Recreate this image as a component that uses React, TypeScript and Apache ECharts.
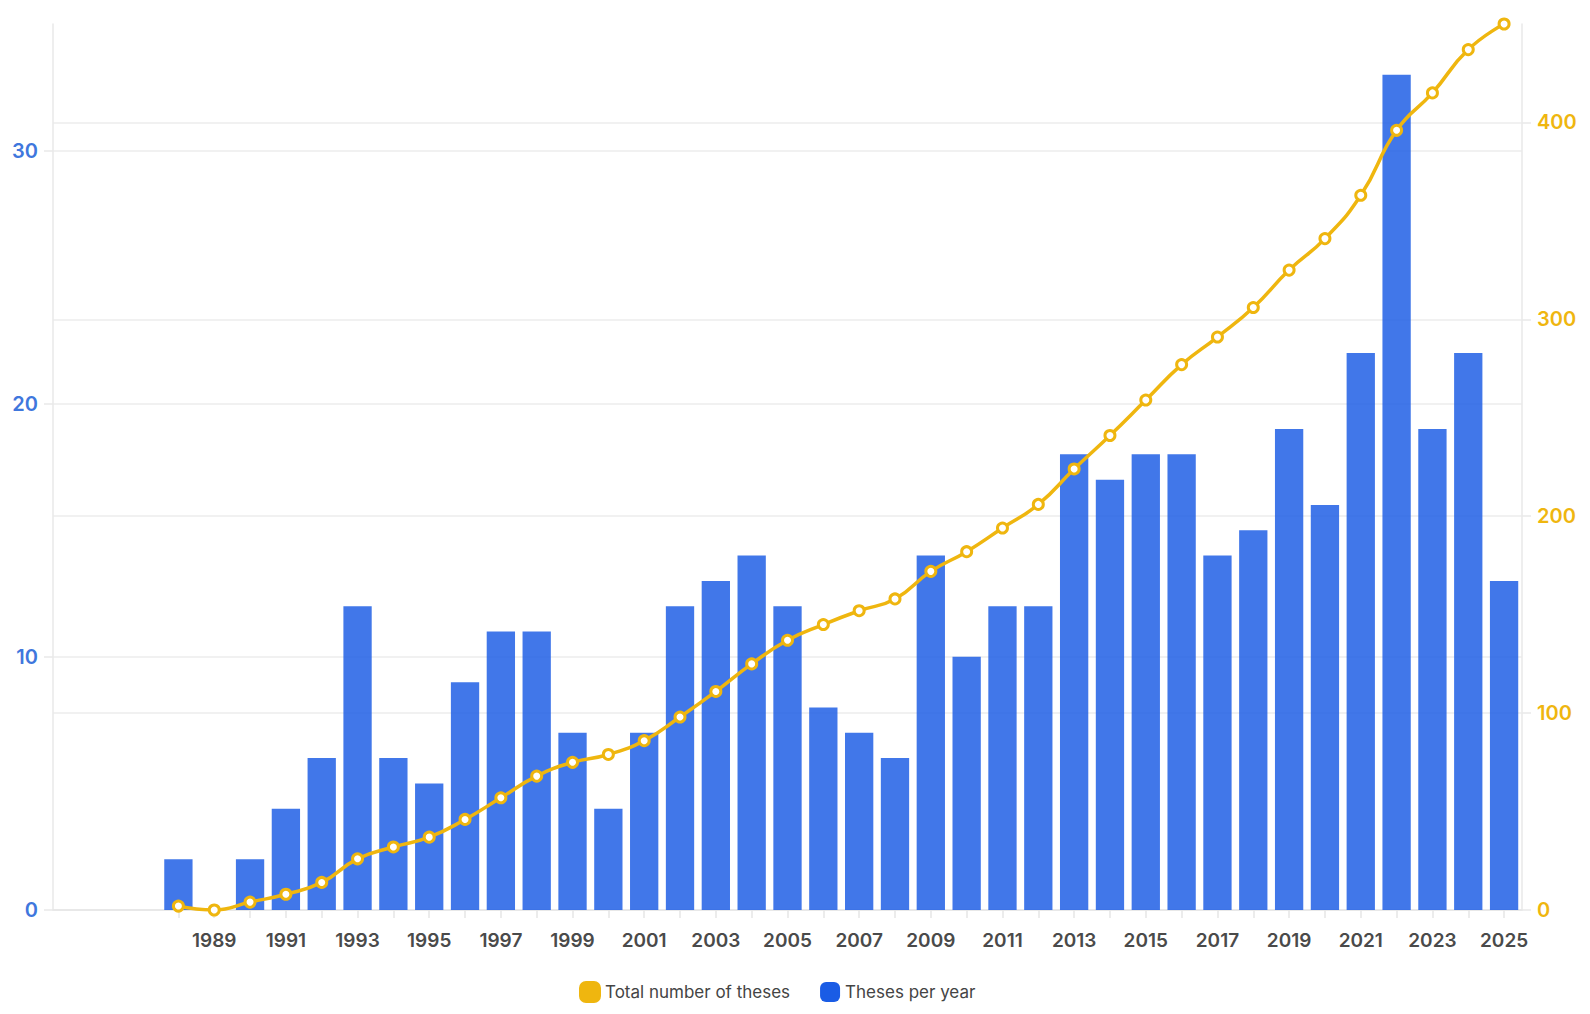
import React, { useEffect, useRef } from "react";
import * as echarts from "echarts";

const years: string[] = [
  "1985", "1986", "1987", "1988", "1989", "1990", "1991", "1992", "1993", "1994",
  "1995", "1996", "1997", "1998", "1999", "2000", "2001", "2002", "2003", "2004",
  "2005", "2006", "2007", "2008", "2009", "2010", "2011", "2012", "2013", "2014",
  "2015", "2016", "2017", "2018", "2019", "2020", "2021", "2022", "2023", "2024", "2025",
];

const thesesPerYear: (number | null)[] = [
  null, null, null, 2, 0, 2, 4, 6, 12, 6,
  5, 9, 11, 11, 7, 4, 7, 12, 13, 14,
  12, 8, 7, 6, 14, 10, 12, 12, 18, 17,
  18, 18, 14, 15, 19, 16, 22, 33, 19, 22, 13,
];

const totalTheses: (number | null)[] = [
  null, null, null, 2, 0, 4, 8, 14, 26, 32,
  37, 46, 57, 68, 75, 79, 86, 98, 111, 125,
  137, 145, 152, 158, 172, 182, 194, 206, 224, 241,
  259, 277, 291, 306, 325, 341, 363, 396, 415, 437, 450,
];

const leftTicks = { min: 0, max: 35, interval: 10 };
const rightTicks = { min: 0, max: 450, interval: 100 };

const BLUE = "#1a5ce5";
const GOLD = "#efb60f";
const FONT = "Inter, 'Open Sans', sans-serif";
const ICON = "path://M6,0 H14 A6,6 0 0 1 20,6 V14 A6,6 0 0 1 14,20 H6 A6,6 0 0 1 0,14 V6 A6,6 0 0 1 6,0 Z";

export default function App() {
  const ref = useRef<HTMLDivElement>(null);
  useEffect(() => {
    if (!ref.current) return;
    const chart = echarts.init(ref.current, null, { renderer: "svg" });
    chart.setOption({
      animation: false,
      textStyle: { fontFamily: FONT },
      grid: { left: 53, right: 68, top: 24, bottom: 104, containLabel: false },
      legend: {
        left: 574,
        top: 976,
        itemWidth: 20,
        itemHeight: 20,
        itemGap: 30,
        textStyle: { fontSize: 17, color: "#444", fontFamily: FONT },
        data: [
          { name: "Total number of theses", icon: ICON, itemStyle: { color: GOLD } },
          { name: "Theses per year", icon: ICON, itemStyle: { color: BLUE, opacity: 1 } },
        ],
      },
      xAxis: {
        type: "category",
        data: years,
        boundaryGap: true,
        axisLine: { show: true, lineStyle: { color: "#e6e6e6", width: 1.5 } },
        axisTick: {
          show: true,
          alignWithLabel: true,
          length: 8,
          lineStyle: { color: "#e6e6e6", width: 1.5 },
          interval: (i: number, v: string) => +v >= 1988,
        },
        axisLabel: {
          interval: (i: number, v: string) => +v >= 1989 && +v % 2 === 1,
          color: "#4a4a4a",
          fontSize: 19,
          fontWeight: 600,
          margin: 21,
          fontFamily: FONT,
        },
        splitLine: { show: false },
      },
      yAxis: [
        {
          type: "value",
          position: "left",
          min: leftTicks.min,
          max: leftTicks.max,
          interval: leftTicks.interval,
          axisLine: { show: true, lineStyle: { color: "#e8e8e8", width: 1.5 } },
          axisTick: { show: true, length: 9, lineStyle: { color: "#e8e8e8", width: 1.5 } },
          axisLabel: {
            color: "#3f77dd",
            fontSize: 20,
            fontWeight: 600,
            margin: 15,
            showMaxLabel: false,
            fontFamily: FONT,
          },
          splitLine: { show: true, showMaxLine: false, lineStyle: { color: "#ececec", width: 1.5 } },
        },
        {
          type: "value",
          position: "right",
          min: rightTicks.min,
          max: rightTicks.max,
          interval: rightTicks.interval,
          axisLine: { show: true, lineStyle: { color: "#e8e8e8", width: 1.5 } },
          axisTick: { show: true, length: 9, lineStyle: { color: "#e8e8e8", width: 1.5 } },
          axisLabel: {
            color: GOLD,
            fontSize: 20,
            fontWeight: 600,
            margin: 15,
            showMaxLabel: false,
            fontFamily: FONT,
          },
          splitLine: { show: true, showMaxLine: false, lineStyle: { color: "#ececec", width: 1.5 } },
        },
      ],
      series: [
        {
          name: "Total number of theses",
          type: "line",
          yAxisIndex: 1,
          data: totalTheses,
          smooth: true,
          z: 5,
          symbol: "circle",
          symbolSize: 10,
          showSymbol: true,
          lineStyle: { color: GOLD, width: 3.5 },
          itemStyle: { color: "#ffffff", borderColor: GOLD, borderWidth: 3 },
        },
        {
          name: "Theses per year",
          type: "bar",
          yAxisIndex: 0,
          data: thesesPerYear,
          barCategoryGap: "21%",
          z: 2,
          itemStyle: { color: BLUE, opacity: 0.83 },
        },
      ],
    });
    return () => chart.dispose();
  }, []);
  return (
    <div
      ref={ref}
      style={{ position: "fixed", left: 0, top: 0, width: 1590, height: 1014, background: "#fff" }}
    />
  );
}
